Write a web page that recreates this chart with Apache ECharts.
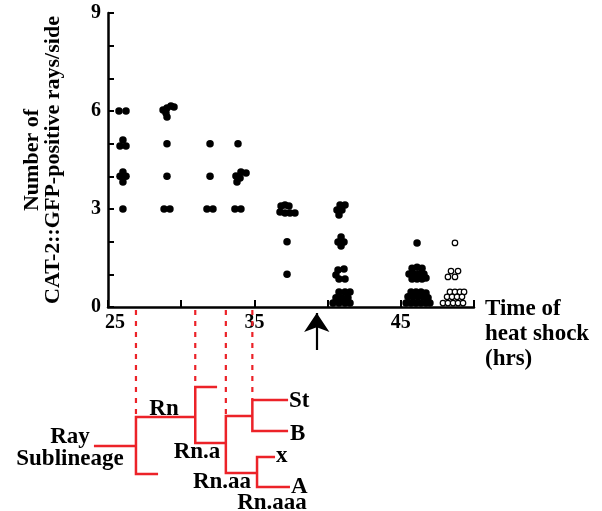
<!DOCTYPE html>
<html>
<head>
<meta charset="utf-8">
<script src="https://cdn.jsdelivr.net/npm/echarts@6/dist/echarts.min.js"></script>
<style>
html,body{margin:0;padding:0;background:#fff;}
#c{width:602px;height:511px;}
</style>
</head>
<body>
<div id="c"></div>
<script>
// ---- data (time of heat shock in hrs, number of CAT-2::GFP-positive rays/side) ----
const xTickLabels = [25, 35, 45];
const yTickLabels = [0, 3, 6, 9];

// filled dots: individual animals
const filledDots = [
  [25.75,6],[26.23,6],[26.02,5.11],[25.82,4.93],[26.23,4.93],[26.02,4.13],[25.82,4.0],[26.23,4.0],[26.02,3.83],[26.02,3],
  [28.76,6.03],[29.03,6.09],[29.30,6.15],[29.51,6.12],[28.96,5.94],[29.03,5.82],[29.03,5],[29.03,4],[28.83,3],[29.23,3],
  [31.97,5],[31.97,4],[31.76,3],[32.17,3],
  [33.88,5],[34.08,4.13],[34.43,4.10],[33.74,4.01],[34.02,3.95],[33.81,3.83],[33.67,3],[34.08,3],
  [36.82,3.09],[37.09,3.12],[37.36,3.09],[36.75,2.91],[37.09,2.88],[37.43,2.88],[37.77,2.88],[37.23,2],[37.23,1],
  [40.85,3.12],[41.19,3.12],[40.64,2.97],[40.98,2.97],[40.78,2.82],
  [40.92,2.14],[40.71,1.99],[41.12,1.99],[40.92,1.87],
  [40.71,1.13],[41.12,1.16],[40.57,0.98],[40.78,0.86],[41.19,0.86],
  [40.78,0.46],[41.19,0.46],[41.53,0.46],[40.57,0.28],[40.98,0.28],[41.39,0.28],[40.37,0.12],[40.78,0.12],[41.19,0.12],[41.53,0.12],
  [46.11,1.96],
  [45.77,1.19],[46.11,1.22],[46.45,1.19],[45.56,1.01],[45.90,1.01],[46.24,1.01],[46.58,1.01],[45.77,0.86],[46.11,0.86],[46.45,0.86],[46.72,0.89],
  [45.70,0.46],[46.04,0.46],[46.38,0.46],[46.72,0.43],[45.49,0.31],[45.83,0.31],[46.17,0.31],[46.52,0.31],[46.86,0.28],
  [45.36,0.12],[45.70,0.12],[46.04,0.12],[46.38,0.12],[46.72,0.12],[46.99,0.12]
];
// open circles
const openDots = [
  [48.70,1.96],
  [48.43,1.10],[48.91,1.10],[48.22,0.92],[48.70,0.92],
  [48.36,0.46],[48.70,0.46],[49.04,0.46],[49.32,0.46],
  [48.16,0.31],[48.50,0.31],[48.84,0.31],[49.18,0.31],
  [47.88,0.12],[48.22,0.12],[48.57,0.12],[48.91,0.12],[49.25,0.12]
];
const heatShockArrowTime = 39.26;

// lineage tree: division times (hrs) and tree rows
const divisionTimes = [26.91, 30.96, 33.05, 34.86, 35.18];
const rootStartTime = 24.04;
const tipTimes = { stub1: 28.42, stub2: 32.45, St: 37.30, B: 37.30, x: 36.41, A: 37.43 };
const treeRows = { root: 13.9, Rn: 11.0, lower: 16.7, stub2: 8.0, RnA: 13.6, RnATop: 10.9, RnAA: 16.6, St: 9.3, B: 12.4, x: 15.0, A: 18.0 };

const treeLabelText = ['Rn', 'Ray', 'Sublineage', 'Rn.a', 'Rn.aa', 'Rn.aaa', 'St', 'B', 'x', 'A'];
const treeLabelTime = [28.83, 22.40, 22.40, 31.08, 32.79, 36.20, 37.36, 37.43, 36.48, 37.50];
const treeLabelRow  = [10.2, 13.0, 15.2, 14.5, 17.5, 19.6, 9.4, 12.7, 14.9, 18.0];
const treeLabelAlign = ['center','center','center','center','center','center','left','left','left','left'];

// ---- chart ----
const RED = '#ec2228';
const FONT = 'Liberation Serif';
const chart = echarts.init(document.getElementById('c'), null, {renderer: 'canvas'});

const d = divisionTimes;
const treePaths = [
  [[rootStartTime, treeRows.root], [d[0], treeRows.root]],
  [[d[1], treeRows.Rn], [d[0], treeRows.Rn], [d[0], treeRows.lower], [tipTimes.stub1, treeRows.lower]],
  [[tipTimes.stub2, treeRows.stub2], [d[1], treeRows.stub2], [d[1], treeRows.RnA], [d[2], treeRows.RnA]],
  [[d[3], treeRows.RnATop], [d[2], treeRows.RnATop], [d[2], treeRows.RnAA], [d[4], treeRows.RnAA]],
  [[tipTimes.St, treeRows.St], [d[3], treeRows.St], [d[3], treeRows.B], [tipTimes.B, treeRows.B]],
  [[tipTimes.x, treeRows.x], [d[4], treeRows.x], [d[4], treeRows.A], [tipTimes.A, treeRows.A]]
];
const dashTargets = [treeRows.Rn, treeRows.stub2, treeRows.RnATop, treeRows.St];
const dashPaths = dashTargets.map((r, i) => [[d[i], 0.3], [d[i], r]]);

const labelData = treeLabelText.map((t, i) => ({
  name: t,
  value: [treeLabelTime[i], treeLabelRow[i]],
  label: { align: treeLabelAlign[i] }
}));

const option = {
  animation: false,
  backgroundColor: '#fff',
  grid: [
    { left: 108, right: 128, top: 13, bottom: 204 },
    { left: 108, right: 128, top: 307, bottom: 14 }
  ],
  xAxis: [
    {
      gridIndex: 0, type: 'value', min: 25, max: 50, interval: 5,
      axisLine: { show: true, onZero: false, lineStyle: { color: '#000', width: 2.5 } },
      axisTick: { show: true, inside: true, length: 7, lineStyle: { color: '#000', width: 2 } },
      splitLine: { show: false },
      axisLabel: {
        margin: 6,
        color: '#000', fontFamily: FONT, fontWeight: 'bold', fontSize: 20,
        formatter: v => xTickLabels.includes(v) ? (v === 25 ? '{s|' + v + '}' : String(v)) : '',
        rich: { s: { padding: [0, 0, 0, 14], color: '#000', fontFamily: FONT, fontWeight: 'bold', fontSize: 20 } }
      }
    },
    { gridIndex: 1, type: 'value', min: 25, max: 50, show: false }
  ],
  yAxis: [
    {
      gridIndex: 0, type: 'value', min: 0, max: 9, interval: 1,
      axisLine: { show: true, onZero: false, lineStyle: { color: '#000', width: 2.5 } },
      axisTick: { show: true, inside: true, length: 6, lineStyle: { color: '#000', width: 2 } },
      splitLine: { show: false },
      axisLabel: {
        margin: 7,
        color: '#000', fontFamily: FONT, fontWeight: 'bold', fontSize: 20,
        formatter: v => yTickLabels.includes(v) ? String(v) : ''
      },
      name: 'Number of\nCAT-2::GFP-positive rays/side',
      nameLocation: 'middle', nameRotate: 90, nameGap: 44,
      nameTextStyle: { color: '#000', fontFamily: FONT, fontWeight: 'bold', fontSize: 22, lineHeight: 21, align: 'center' }
    },
    { gridIndex: 1, type: 'value', min: 0, max: 19, inverse: true, show: false }
  ],
  graphic: [
    {
      type: 'text', left: 485, top: 297,
      style: {
        text: 'Time of\nheat shock\n(hrs)',
        fill: '#000', font: 'bold 23px "Liberation Serif"', lineHeight: 25
      }
    }
  ],
  series: [
    {
      type: 'scatter', xAxisIndex: 0, yAxisIndex: 0, clip: false,
      symbol: 'circle', symbolSize: 7.5,
      itemStyle: { color: '#000', opacity: 1 },
      data: filledDots
    },
    {
      type: 'scatter', xAxisIndex: 0, yAxisIndex: 0, clip: false,
      symbol: 'circle', symbolSize: 5.5,
      itemStyle: { color: '#fff', borderColor: '#000', borderWidth: 1.2, opacity: 1 },
      data: openDots
    },
    {
      type: 'lines', coordinateSystem: 'cartesian2d', xAxisIndex: 1, yAxisIndex: 1,
      polyline: true, clip: false,
      lineStyle: { color: RED, width: 2.5, opacity: 1 },
      data: treePaths.map(p => ({ coords: p }))
    },
    {
      type: 'lines', coordinateSystem: 'cartesian2d', xAxisIndex: 1, yAxisIndex: 1,
      polyline: true, clip: false,
      lineStyle: { color: RED, width: 2.2, type: [5, 6], opacity: 1 },
      data: dashPaths.map(p => ({ coords: p }))
    },
    {
      type: 'lines', coordinateSystem: 'cartesian2d', xAxisIndex: 1, yAxisIndex: 1,
      clip: false,
      symbol: ['none', 'arrow'], symbolSize: [0, 19],
      lineStyle: { color: '#000', width: 2.2, opacity: 1 },
      data: [{ coords: [[heatShockArrowTime, 4.3], [heatShockArrowTime, 0.6]] }]
    },
    {
      type: 'scatter', xAxisIndex: 1, yAxisIndex: 1, clip: false,
      symbolSize: 0, silent: true,
      itemStyle: { opacity: 1 },
      label: {
        show: true, position: 'inside', formatter: p => p.name, opacity: 1,
        color: '#000', fontFamily: FONT, fontWeight: 'bold', fontSize: 23, verticalAlign: 'middle'
      },
      data: labelData
    }
  ]
};
chart.setOption(option);
</script>
</body>
</html>
